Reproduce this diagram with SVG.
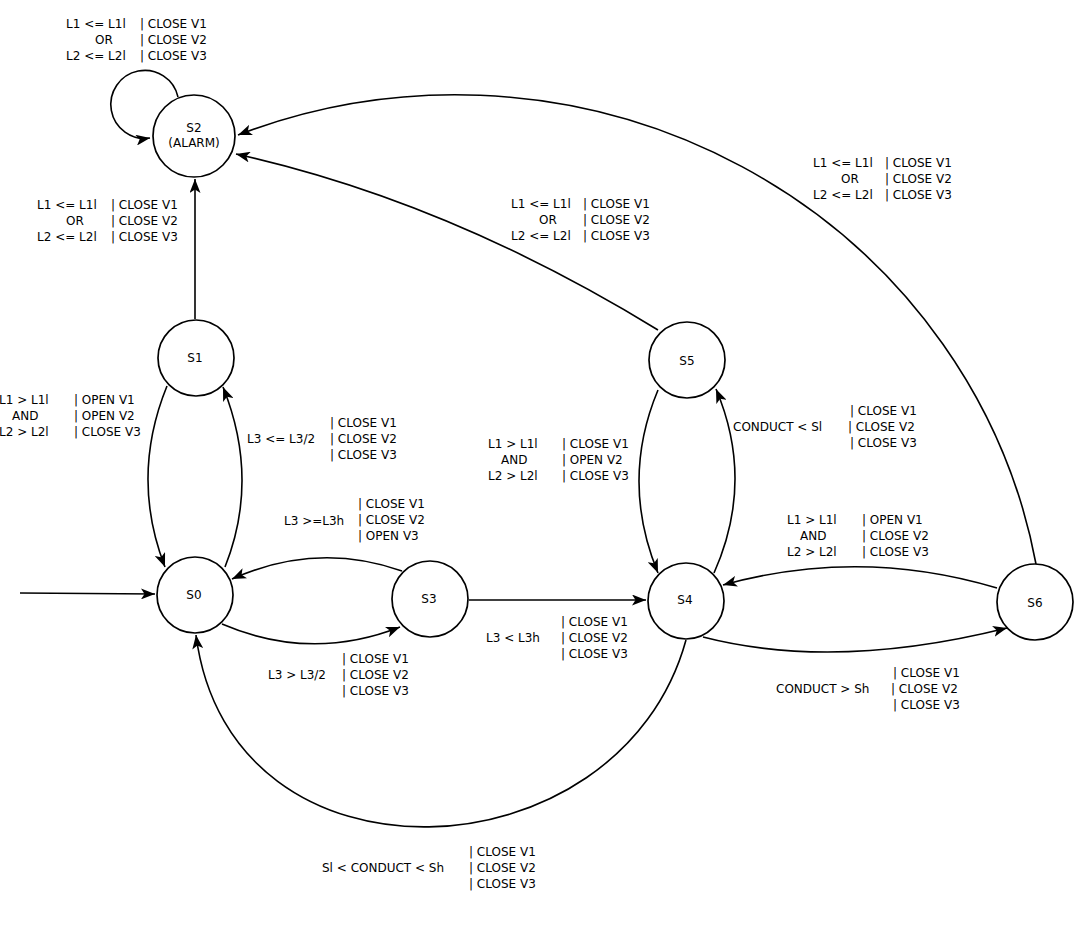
<svg xmlns="http://www.w3.org/2000/svg" width="1077" height="940" viewBox="0 0 1077 940">
<style>
.n{fill:#fff;stroke:#000;stroke-width:1.7}
.e{fill:none;stroke:#000;stroke-width:1.6;marker-end:url(#ah)}
text{font-family:"DejaVu Sans",sans-serif;font-size:12px;fill:#000}
.c{text-anchor:middle}
</style>
<defs>
<marker id="ah" markerUnits="userSpaceOnUse" markerWidth="15" markerHeight="11" refX="14" refY="5.5" orient="auto" viewBox="0 0 15 11">
<path d="M0,0 L14,5.5 L0,11 L3.5,5.5 z" fill="#000"/>
</marker>
</defs>
<rect width="1077" height="940" fill="#fff"/>
<g id="connectors">
<path class="e" d="M178,97 A34,34 0 1 0 150,138"/>
<path class="e" d="M195,319 L195,179"/>
<path class="e" d="M658,330 Q448,201 236,154"/>
<path class="e" d="M1036,564 A590,571 0 0 0 238,135"/>
<path class="e" d="M167,386 Q130,477 165,567"/>
<path class="e" d="M225,567 Q260,479 223,387"/>
<path class="e" d="M402,571 Q317,541 232,579"/>
<path class="e" d="M222,624 Q311,662 400,627"/>
<path class="e" d="M20,593 L155,594"/>
<path class="e" d="M469,600 L646,600"/>
<path class="e" d="M658,390 Q620,481 658,573"/>
<path class="e" d="M714,573 Q755,481 716,389"/>
<path class="e" d="M997,588 Q860,547 723,585"/>
<path class="e" d="M703,637 Q835,671 1007,628"/>
<path class="e" d="M686,640 C620,880 230,900 196,635"/>
</g>
<g id="S2"><circle class="n" cx="194" cy="136" r="41"/><text class="c" x="194" y="132">S2</text><text class="c" x="194" y="147">(ALARM)</text></g>
<g id="S1"><circle class="n" cx="196" cy="358" r="38"/><text class="c" x="195" y="362">S1</text></g>
<g id="S0"><circle class="n" cx="195" cy="595" r="38"/><text class="c" x="194" y="599">S0</text></g>
<g id="S3"><circle class="n" cx="430" cy="599" r="38"/><text class="c" x="429" y="603">S3</text></g>
<g id="S4"><circle class="n" cx="686" cy="601" r="38"/><text class="c" x="685" y="604">S4</text></g>
<g id="S5"><circle class="n" cx="687" cy="360" r="38"/><text class="c" x="687" y="365">S5</text></g>
<g id="S6"><circle class="n" cx="1035" cy="602" r="38"/><text class="c" x="1035" y="607">S6</text></g>
<g id="labels">
<text x="66" y="28">L1 &lt;= L1l</text><text x="95" y="44">OR</text><text x="66" y="60">L2 &lt;= L2l</text>
<text x="140" y="28">| CLOSE V1</text><text x="140" y="44">| CLOSE V2</text><text x="140" y="60">| CLOSE V3</text>

<text x="37" y="209">L1 &lt;= L1l</text><text x="66" y="225">OR</text><text x="37" y="241">L2 &lt;= L2l</text>
<text x="111" y="209">| CLOSE V1</text><text x="111" y="225">| CLOSE V2</text><text x="111" y="241">| CLOSE V3</text>

<text x="-1" y="404">L1 &gt; L1l</text><text x="12" y="420">AND</text><text x="-1" y="436">L2 &gt; L2l</text>
<text x="74" y="404">| OPEN V1</text><text x="74" y="420">| OPEN V2</text><text x="74" y="436">| CLOSE V3</text>

<text x="247" y="443">L3 &lt;= L3/2</text>
<text x="330" y="427">| CLOSE V1</text><text x="330" y="443">| CLOSE V2</text><text x="330" y="459">| CLOSE V3</text>

<text x="284" y="525">L3 &gt;=L3h</text>
<text x="358" y="508">| CLOSE V1</text><text x="358" y="524">| CLOSE V2</text><text x="358" y="540">| OPEN V3</text>

<text x="268" y="679">L3 &gt; L3/2</text>
<text x="342" y="663">| CLOSE V1</text><text x="342" y="679">| CLOSE V2</text><text x="342" y="695">| CLOSE V3</text>

<text x="486" y="642">L3 &lt; L3h</text>
<text x="561" y="626">| CLOSE V1</text><text x="561" y="642">| CLOSE V2</text><text x="561" y="658">| CLOSE V3</text>

<text x="488" y="448">L1 &gt; L1l</text><text x="501" y="464">AND</text><text x="488" y="480">L2 &gt; L2l</text>
<text x="562" y="448">| CLOSE V1</text><text x="562" y="464">| OPEN V2</text><text x="562" y="480">| CLOSE V3</text>

<text x="733" y="431">CONDUCT &lt; Sl</text>
<text x="850" y="415">| CLOSE V1</text><text x="848" y="431">| CLOSE V2</text><text x="850" y="447">| CLOSE V3</text>

<text x="787" y="524">L1 &gt; L1l</text><text x="800" y="540">AND</text><text x="787" y="556">L2 &gt; L2l</text>
<text x="862" y="524">| OPEN V1</text><text x="862" y="540">| CLOSE V2</text><text x="862" y="556">| CLOSE V3</text>

<text x="776" y="693">CONDUCT &gt; Sh</text>
<text x="893" y="677">| CLOSE V1</text><text x="891" y="693">| CLOSE V2</text><text x="893" y="709">| CLOSE V3</text>

<text x="322" y="872">Sl &lt; CONDUCT &lt; Sh</text>
<text x="469" y="856">| CLOSE V1</text><text x="469" y="872">| CLOSE V2</text><text x="469" y="888">| CLOSE V3</text>

<text x="511" y="208">L1 &lt;= L1l</text><text x="539" y="224">OR</text><text x="511" y="240">L2 &lt;= L2l</text>
<text x="583" y="208">| CLOSE V1</text><text x="583" y="224">| CLOSE V2</text><text x="583" y="240">| CLOSE V3</text>

<text x="813" y="167">L1 &lt;= L1l</text><text x="841" y="183">OR</text><text x="813" y="199">L2 &lt;= L2l</text>
<text x="885" y="167">| CLOSE V1</text><text x="885" y="183">| CLOSE V2</text><text x="885" y="199">| CLOSE V3</text>
</g>
</svg>
